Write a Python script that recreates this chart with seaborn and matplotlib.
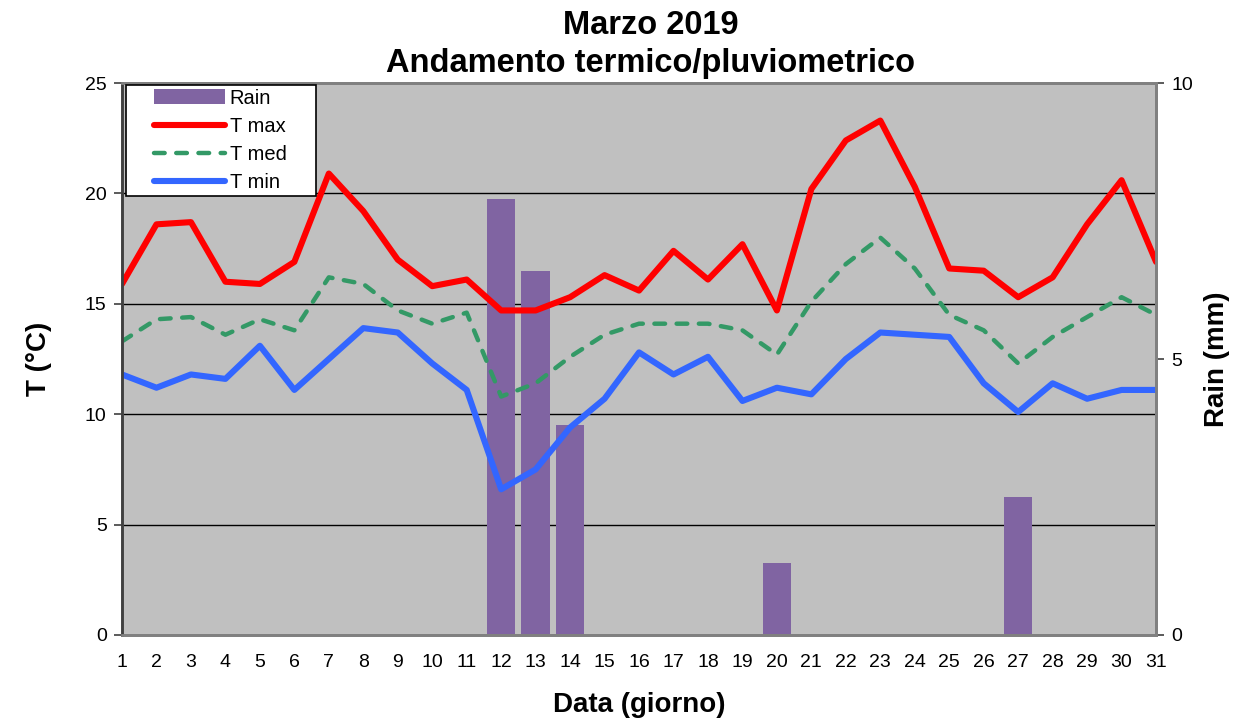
import matplotlib
matplotlib.use("Agg")
import matplotlib.pyplot as plt
import seaborn as sns
from matplotlib.ticker import FixedLocator
from matplotlib.patches import Rectangle

# daily data, March 2019
days = list(range(1, 32))
t_max = [15.9, 18.6, 18.7, 16.0, 15.9, 16.9, 20.9, 19.2, 17.0, 15.8, 16.1,
         14.7, 14.7, 15.3, 16.3, 15.6, 17.4, 16.1, 17.7, 14.7, 20.2, 22.4,
         23.3, 20.3, 16.6, 16.5, 15.3, 16.2, 18.6, 20.6, 16.9]
t_med = [13.3, 14.3, 14.4, 13.6, 14.3, 13.8, 16.2, 15.9, 14.7, 14.1, 14.6,
         10.8, 11.4, 12.6, 13.6, 14.1, 14.1, 14.1, 13.8, 12.7, 15.1, 16.8,
         18.0, 16.6, 14.5, 13.8, 12.3, 13.5, 14.4, 15.3, 14.5]
t_min = [11.8, 11.2, 11.8, 11.6, 13.1, 11.1, 12.5, 13.9, 13.7, 12.3, 11.1,
         6.6, 7.5, 9.4, 10.7, 12.8, 11.8, 12.6, 10.6, 11.2, 10.9, 12.5,
         13.7, 13.6, 13.5, 11.4, 10.1, 11.4, 10.7, 11.1, 11.1]
rain = [0, 0, 0, 0, 0, 0, 0, 0, 0, 0, 0,
        7.9, 6.6, 3.8, 0, 0, 0, 0, 0, 1.3, 0, 0,
        0, 0, 0, 0, 2.5, 0, 0, 0, 0]

t_ticks = [0, 5, 10, 15, 20, 25]
rain_ticks = [0, 5, 10]

sns.set_theme(style="white")
plt.rcParams['font.family'] = ['Liberation Sans', 'DejaVu Sans']
plt.rcParams.update({'text.color': 'black', 'axes.labelcolor': 'black',
                     'xtick.color': 'black', 'ytick.color': 'black'})

fig = plt.figure(figsize=(12.4, 7.22), dpi=100)
ax_r = fig.add_axes([0.0984, 0.1205, 0.8339, 0.7645])
ax_r.set_facecolor('#C0C0C0')

# rain bars first so the lines sit on top
sns.barplot(x=days, y=rain, native_scale=True, width=0.83, color='#8064A2',
            saturation=1, errorbar=None, ax=ax_r, label='Rain', zorder=2,
            linewidth=0, edgecolor='none')
if ax_r.get_legend() is not None:
    ax_r.get_legend().remove()
ax_r.set_ylim(0, 10)
ax_r.yaxis.set_major_locator(FixedLocator(rain_ticks))
ax_r.yaxis.set_minor_locator(FixedLocator([2, 4, 6, 8]))
ax_r.grid(which='minor', axis='y', color='black', lw=1)
ax_r.set_axisbelow(True)

ax_t = ax_r.twinx()
sns.lineplot(x=days, y=t_max, ax=ax_t, color='#FF0000', lw=4.4, label='T max')
sns.lineplot(x=days, y=t_med, ax=ax_t, color='#339966', lw=3.2, label='T med',
             dashes=False, linestyle=(0, (2.4, 2.6)), dash_capstyle='round')
sns.lineplot(x=days, y=t_min, ax=ax_t, color='#3366FF', lw=4.4, label='T min')
ax_t.set_ylim(0, 25)
ax_t.set_yticks(t_ticks)
ax_t.set_xlim(1, 31)
ax_r.set_xlim(1, 31)
ax_r.set_xticks(days)
ax_r.set_xticklabels([str(d) for d in days])

# temperature on the left, rain on the right
ax_t.yaxis.tick_left()
ax_t.yaxis.set_label_position('left')
ax_r.yaxis.tick_right()
ax_r.yaxis.set_label_position('right')

for a in (ax_r, ax_t):
    a.tick_params(axis='both', which='major', direction='out', length=6,
                  width=1.2, color='#404040', labelsize=14, pad=5)
    for s in a.spines.values():
        s.set_color('#808080')
        s.set_linewidth(2)
ax_r.tick_params(axis='x', pad=8)
ax_t.spines['left'].set_color('#404040')
ax_r.tick_params(axis='y', which='minor', length=0)

ax_t.set_ylabel('T (°C)', fontsize=20, fontweight='bold', labelpad=24)
ax_r.set_ylabel('Rain (mm)', fontsize=20, fontweight='bold', labelpad=8)
ax_r.set_xlabel('Data (giorno)', fontsize=20, fontweight='bold', labelpad=15)
ax_t.set_title('Marzo 2019\nAndamento termico/pluviometrico', fontsize=23.5,
               fontweight='bold', pad=8, linespacing=1.3, x=0.511)

# legend box like the spreadsheet one: white, black border, wide padding
ax_t.add_patch(Rectangle((0.004, 0.795), 0.184, 0.2015, transform=ax_t.transAxes,
                         facecolor='white', edgecolor='black', lw=1.2, zorder=4))
h1, l1 = ax_r.get_legend_handles_labels()
h2, l2 = ax_t.get_legend_handles_labels()
ax_t.legend(h1 + h2, l1 + l2, loc='upper left', bbox_to_anchor=(0.031, 0.99),
            borderaxespad=0, borderpad=0, fontsize=14.5, frameon=False,
            handlelength=3.5, handletextpad=0.25, labelspacing=0.46)

fig.savefig('out.png', dpi=100)
